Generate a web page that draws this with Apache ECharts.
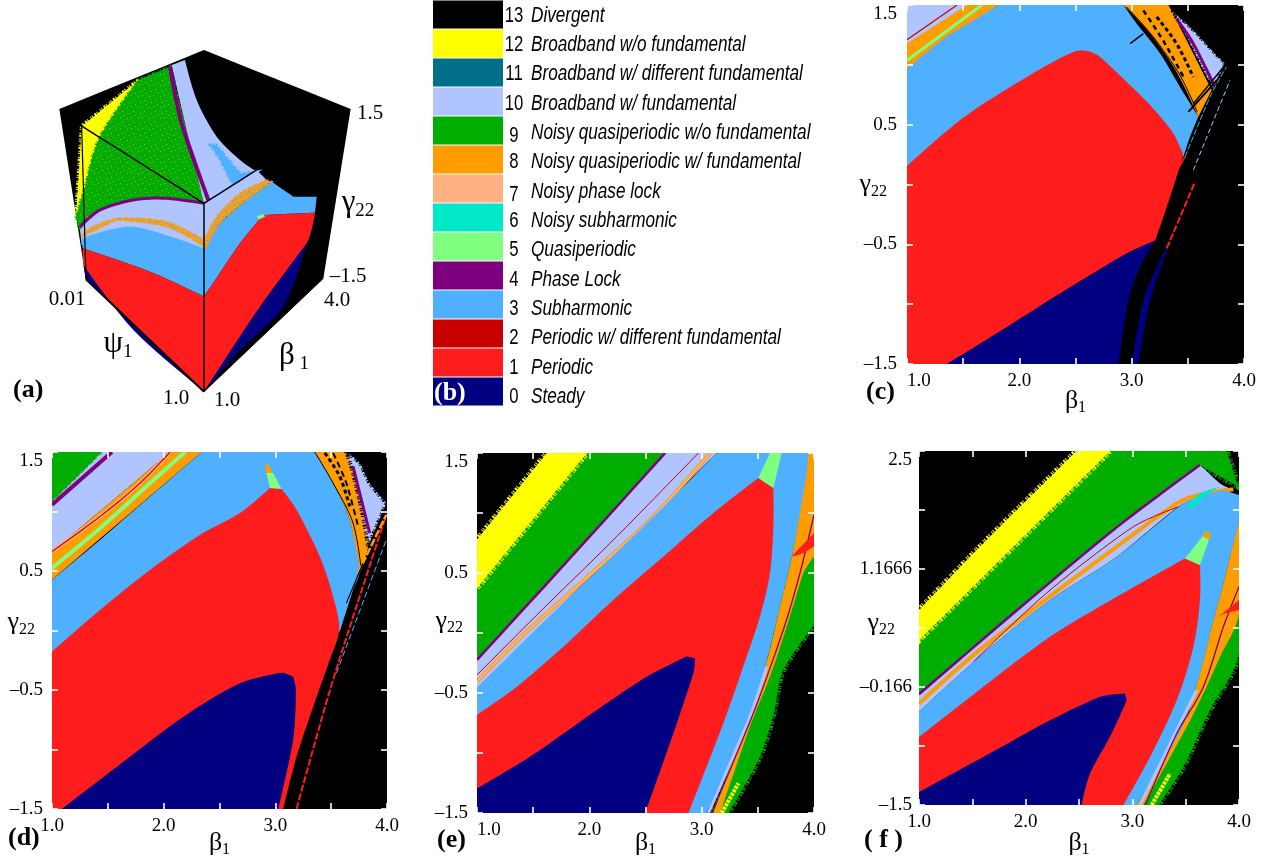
<!DOCTYPE html>
<html>
<head>
<meta charset="utf-8">
<style>html,body{margin:0;padding:0;background:#fff}#chart{width:1266px;height:862px}</style>
<script src="https://cdn.jsdelivr.net/npm/echarts@6/dist/echarts.min.js"></script>
</head>
<body>
<div id="chart"></div>
<script>
// ---------- legend ----------
const legendCodes = [13,12,11,10,9,8,7,6,5,4,3,2,1,0];
const legendNames = ['Divergent','Broadband w/o fundamental','Broadband w/ different fundamental','Broadband w/ fundamental','Noisy quasiperiodic w/o fundamental','Noisy quasiperiodic w/ fundamental','Noisy phase lock','Noisy subharmonic','Quasiperiodic','Phase Lock','Subharmonic','Periodic w/ different fundamental','Periodic','Steady'];
const stateColors = {0:'#000080',1:'#ff1c1c',2:'#c80000',3:'#4fb0ff',4:'#7f007f',5:'#80ff80',6:'#00e8c8',7:'#ffb080',8:'#ff9c00',9:'#00ae00',10:'#b0c4ff',11:'#006f87',12:'#ffff00',13:'#000000'};

// ---------- axes ----------
const betaTicks = [1,1.5,2,2.5,3,3.5,4];
const betaLabels = [1,2,3,4];
const gammaTicks = [-1.5,-1,-0.5,0,0.5,1,1.5];
const gammaLabels = [-1.5,-0.5,0.5,1.5];
const gammaTicksF = [-1.5,-0.8333,-0.1666,0.5,1.1666,1.8333,2.5];
const gammaLabelsF = [-1.5,-0.1666,1.1666,2.5];
const gammaTextF = {'-1.5':'–1.5','-0.1666':'–0.166','1.1666':'1.1666','2.5':'2.5'};

// ---------- panel (c) boundaries (beta1, gamma22) ----------
const cPlot = [[1,-1.5],[4,-1.5],[4,1.5],[1,1.5]];
const cCorner = [[1,.968],[1.815,1.5],[1,1.5]];
const cCornerLight = [[1,1.5],[1.534,1.5],[1,1.177]];
const cCornerMaroon = [[1,1.21],[1.445,1.5]];
const cCornerGreen = [[1,1.038],[1.667,1.5]];
const cSub = [[1,.968],[1.326,1.219],[1.593,1.372],[1.815,1.5],[2.927,1.5],[3.045,1.344],[3.253,1.094],[3.43,.815],[3.593,.565],[3.519,.398],[3.46,.231],[1,.147]];
const cPeriodic = [[1,.156],[1.326,.426],[1.593,.621],[1.919,.815],[2.245,.996],[2.482,1.108],[2.6,1.116],[2.719,1.066],[2.956,.857],[3.193,.634],[3.371,.426],[3.46,.245],[3.371,-.02],[3.282,-.27],[3.208,-.47],[2.956,-.576],[2.363,-.91],[1.919,-1.174],[1.356,-1.5],[1,-1.5]];
const cSteady = [[1.356,-1.5],[1.919,-1.174],[2.363,-.91],[2.956,-.576],[3.208,-.47],[3.075,-.687],[2.971,-.966],[2.882,-1.5]];
const cSteadyStrip = [[3,-1.5],[3.104,-.966],[3.282,-.576],[3.327,-.534],[3.164,-.966],[3.06,-1.5]];
const cOrange = [[2.927,1.5],[3.164,1.261],[3.4,.941],[3.593,.565],[3.712,.788],[3.549,1.094],[3.4,1.372],[3.327,1.5]];
const cLight = [[3.356,1.455],[3.549,1.288],[3.727,1.108],[3.831,1.01],[3.727,.801],[3.638,.955],[3.49,1.233]];
const cPurple = [[3.4,1.386],[3.549,1.177],[3.727,.843]];
const cEdge = [[2.956,1.483],[3.193,1.233],[3.43,.913],[3.584,.607]];
const cHash1 = [[3.223,1.4],[3.4,1.177],[3.549,.899]];
const cHash2 = [[3.104,1.455],[3.282,1.2],[3.46,.9]];
const cHash3 = [[3.505,.607],[3.786,.899]];
const cHash4 = [[3.549,.676],[3.831,.996]];
const cHash5 = [[2.986,1.177],[3.104,1.261]];
const cThin1 = [[3.475,.231],[3.697,.732],[3.845,.983]];
const cThin2 = [[3.549,.12],[3.875,.871]];
const cRed1 = [[3.312,-.534],[3.564,.022]];
const cRed2 = [[3.386,.092],[3.475,.231]];

// ---------- panel (d) ----------
const dPlot = cPlot.slice();
const dGreen = [[1,1.5],[1.447,1.5],[1,1.085]];
const dLight = [[1,1.5],[2.058,1.5],[1,.664]];
const dOrange = [[1,.664],[2.058,1.5],[2.34,1.5],[1,.426]];
const dPurple = [[1,1.057],[1.536,1.5]];
const dMaroon = [[1,.664],[1.432,.959],[1.789,1.239],[2.058,1.5]];
const dQuasiBand = [[1,.524],[1.432,.861],[1.879,1.239],[2.192,1.5]];
const dSub = [[1,.426],[1.432,.763],[1.879,1.127],[2.341,1.5],[3.353,1.5],[3.517,1.239],[3.666,.931],[3.756,.51],[3.696,.342],[3.577,-.009],[1,-.191]];
const dPeriodic = [[1,-.177],[1.432,.174],[1.879,.51],[2.326,.805],[2.683,.987],[2.951,1.197],[3.056,1.189],[3.19,1.015],[3.398,.622],[3.517,.286],[3.571,.005],[3.487,-.247],[3.339,-.64],[3.19,-1.06],[3.07,-1.5],[1,-1.5]];
const dSteady = [[1.089,-1.5],[1.581,-1.144],[2.177,-.724],[2.683,-.443],[3.07,-.353],[3.16,-.387],[3.184,-.499],[3.16,-.92],[3.026,-1.5]];
const dTip = [[2.951,1.197],[3.056,1.189],[2.981,1.323],[2.921,1.323]];
const dTipOrange = [[2.906,1.393],[2.942,1.393],[2.981,1.31],[2.921,1.31]];
const dOrangeR = [[3.353,1.5],[3.517,1.239],[3.666,.931],[3.756,.51],[3.83,.706],[3.785,.959],[3.696,1.323],[3.636,1.5]];
const dLightR = [[3.636,1.5],[3.696,1.323],[3.785,.959],[3.83,.706],[3.994,1.071],[3.845,1.239],[3.756,1.407]];
const dPurpleR = [[3.696,1.379],[3.785,1.043],[3.845,.819]];
const dEdge = [[3.353,1.5],[3.517,1.239],[3.696,.903],[3.77,.51]];
const dHash1 = [[3.443,1.492],[3.577,1.295],[3.666,1.043]];
const dHash2 = [[3.517,1.492],[3.636,1.239],[3.741,.875]];
const dRedBand = [[3.19,-1.5],[3.517,-.415],[3.994,.973]];
const dBlueBand = [[3.547,-.359],[3.994,.763]];
const dOrangeBand = [[3.74,.482],[3.994,.973]];
const dBlackLine = [[3.636,.23],[3.785,.566]];

// ---------- panel (e) ----------
const ePlot = cPlot.slice();
const eYellow = [[1,.777],[1.622,1.5],[1.978,1.5],[1,.374]];
const eGreen = [[1,.374],[1.978,1.5],[2.675,1.5],[1.83,.625],[1,-.224]];
const eLight = [[1,-.224],[1.83,.625],[2.675,1.5],[3.134,1.5],[1,-.46]];
const ePurple = [[1,-.224],[1.83,.625],[2.675,1.5]];
const eOrangeBand = [[1,-.404],[1.474,.04],[2.512,.916],[3.075,1.5]];
const eMaroon = [[1,-.349],[1.534,.152],[2.245,.805],[2.971,1.5]];
const eSub = [[1,-.46],[1.474,-.015],[2.512,.916],[3.134,1.5],[3.949,1.5],[3.934,1.333],[3.816,.694],[3.697,.221],[3.549,-.335],[3.371,-.807],[3.045,-1.5],[1,-1.5]];
const ePeriodic = [[1,-.682],[1.356,-.446],[1.771,-.112],[2.215,.277],[2.66,.638],[3.104,1],[3.505,1.292],[3.638,1.208],[3.638,.888],[3.608,.499],[3.519,.138],[3.401,-.196],[3.193,-.752],[2.882,-1.5],[1,-1.5]];
const eSteady = [[1,-1.294],[1.474,-1.03],[2.067,-.641],[2.512,-.363],[2.867,-.196],[2.941,-.21],[2.927,-.335],[2.749,-.835],[2.497,-1.5],[1,-1.5]];
const eTip = [[3.505,1.292],[3.638,1.208],[3.712,1.5],[3.608,1.5]];
const eGreenR = [[3.104,-1.5],[3.549,-.335],[3.816,.694],[3.949,1.5],[4,1.5],[4,.068],[3.727,-.307],[3.638,-.682],[3.505,-1.058],[3.238,-1.5]];
const eOrangeR = [[3.949,1.5],[4,1.5],[4,.638],[3.905,.499],[3.757,.054],[3.608,-.363],[3.43,-.78],[3.164,-1.5],[3.104,-1.5],[3.549,-.335],[3.697,.221],[3.816,.694]];
const eLightThin = [[3.06,-1.5],[3.43,-.696],[3.579,-.279]];
const ePurpleThin = [[3.09,-1.5],[3.46,-.668],[3.727,.027],[3.875,.499],[4,.986]];
const eYellowBottom = [[3.179,-1.5],[3.327,-1.252]];
const eRedX = [[3.801,.638],[4,.833],[4,.722],[3.905,.666]];

// ---------- panel (f) ----------
const fPlot = [[1,-1.5],[4,-1.5],[4,2.5],[1,2.5]];
const fYellow = [[1,.702],[1.603,1.456],[2.478,2.5],[2.791,2.5],[1,.362]];
const fGreen = [[1,.362],[2.791,2.5],[3.884,2.5],[3.994,2.097],[3.634,2.342],[2.853,1.637],[1.916,.698],[1,-.248]];
const fLight = [[1,-.248],[1.916,.698],[2.853,1.637],[3.634,2.342],[3.822,2.134],[3.947,2.059],[3.478,1.908],[2.853,1.305],[2.228,.815],[1.603,.212],[1,-.448]];
const fPurple = [[1,-.248],[1.916,.698],[2.853,1.637],[3.634,2.342]];
const fSub = [[1,-.448],[1.603,.212],[2.228,.815],[2.853,1.305],[3.478,1.908],[3.853,2.059],[4,2.002],[4,1.72],[3.916,1.305],[3.838,.928],[3.744,.513],[3.634,-.015],[3.478,-.58],[3.259,-1.07],[3.041,-1.5],[1,-1.5]];
const fPeriodic = [[1,-.731],[1.603,-.165],[2.228,.4],[2.853,.852],[3.494,1.286],[3.634,1.211],[3.634,.815],[3.572,.287],[3.416,-.316],[3.166,-.957],[2.916,-1.5],[1,-1.5]];
const fSteady = [[1,-1.353],[1.603,-.957],[2.228,-.542],[2.697,-.278],[2.931,-.241],[2.947,-.316],[2.806,-.693],[2.603,-1.146],[2.525,-1.5],[1,-1.5]];
const fTip = [[3.494,1.286],[3.634,1.211],[3.728,1.531],[3.681,1.569]];
const fTipOrange = [[3.681,1.6],[3.734,1.569],[3.722,1.493],[3.666,1.531]];
const fTeal = [[3.509,1.87],[3.634,2.021],[3.822,2.097],[3.697,2.002],[3.572,1.852]];
const fOrangeBand = [[1,-.354],[1.603,.287],[2.853,1.418],[3.478,1.946],[3.947,2.066]];
const fMaroon = [[1.509,.117],[2.228,.928],[3.009,1.644],[3.478,1.889]];
const fGreenR = [[3.103,-1.5],[3.478,-.618],[3.744,.513],[3.838,.928],[3.916,1.305],[4,1.72],[4,.212],[3.759,-.354],[3.666,-.58],[3.478,-1.07],[3.244,-1.5]];
const fOrangeR = [[3.916,1.305],[4,1.72],[4,.664],[3.822,.174],[3.666,-.241],[3.509,-.618],[3.166,-1.372],[3.103,-1.5],[3.041,-1.5],[3.478,-.58],[3.634,-.015],[3.744,.513],[3.838,.928]];
const fPurpleThin = [[3.119,-1.5],[3.416,-.693],[3.666,-.165],[3.853,.513],[4,.966]];
const fLightThin = [[3.072,-1.5],[3.4,-.693],[3.603,-.203]];
const fYellowBottom = [[3.181,-1.5],[3.353,-1.146]];
const fRedX = [[3.806,.626],[4,.815],[4,.702],[3.869,.664]];

// ---------- panel (a): cube faces read in projected picture units ----------
const aBox = [[178,237],[612,60],[1052,237],[970,745],[612,1085],[258,748]];
const aYellow = [[250,285],[415,150],[300,320],[255,470],[228,560],[245,295]];
const aGreen = [[415,150],[510,110],[560,300],[625,510],[612,520],[530,510],[400,510],[300,560],[240,600],[228,560],[255,470],[300,320]];
const aLightTop = [[515,105],[555,90],[590,210],[650,320],[720,390],[770,425],[612,520],[560,300]];
const aLightLow = [[240,600],[300,540],[400,510],[500,505],[612,520],[612,680],[500,650],[245,645]];
const aBlueWedge = [[630,345],[650,345],[720,430],[770,425],[700,470],[660,390]];
const aPurpleA = [[510,110],[545,280],[625,510]];
const aPurpleB = [[240,590],[300,540],[400,510],[500,505],[612,520]];
const aOrangeL = [[245,620],[350,570],[500,590],[612,650],[612,630],[500,575],[350,565],[260,600]];
const aBlueL = [[245,625],[400,590],[612,655],[612,800],[450,725],[248,655]];
const aRedL = [[248,655],[450,725],[612,800],[612,1085],[258,745],[250,700]];
const aNavyL = [[250,705],[258,750],[600,1075],[400,900]];
const aLightR = [[612,520],[770,420],[800,450],[700,520],[640,590],[612,640]];
const aOrangeR = [[612,630],[650,560],[720,490],[800,450],[815,455],[740,510],[660,580],[615,660]];
const aBlueR = [[612,650],[660,580],[740,510],[815,455],[880,500],[950,500],[945,548],[790,555],[720,640],[612,800]];
const aRedR = [[612,800],[720,640],[790,555],[945,548],[920,640],[780,830],[612,1085]];
const aNavyR = [[612,1085],[780,830],[920,640],[850,830],[720,960],[630,1065]];
const aSpot = [[770,560],[790,552],[795,560],[778,568]];
const aEdgeA = [[245,288],[612,520],[770,420]];
const aEdgeB = [[612,520],[612,1085]];
const aEdgeC = [[245,288],[258,748]];
const aEdgeD = [[258,748],[612,1085]];
const aEdgeE = [[612,1085],[970,745]];

// ---------- drawing ----------
function speckle(base, dot, list){
  const cv=document.createElement('canvas');cv.width=cv.height=11;
  const g=cv.getContext('2d');g.fillStyle=base;g.fillRect(0,0,11,11);g.fillStyle=dot;
  list.forEach(q=>g.fillRect(q[0],q[1],1,1));
  return {image:cv,repeat:'repeat'};
}
const NOISE=[1,2,2,1,1,3,1,1];
const R=(c,p,e)=>({c,p,e});
const L=(c,p,w,d)=>({c,p,w,d,line:1});
const noisy=(c,w)=>[stateColors[c],w];

const layersA=[
  R(13,aBox),R(12,aYellow,noisy(12,4)),R('speck',aGreen,noisy(9,3)),R(10,aLightTop),R(10,aLightLow),
  R(3,aBlueWedge,noisy(3,3)),L(4,aPurpleA,4),L(4,aPurpleB,3),R(3,aBlueL),R('olive',aOrangeL,noisy(8,2)),
  R(1,aRedL),R(0,aNavyL),R(10,aLightR),R(3,aBlueR),R('olive',aOrangeR,noisy(8,2)),R(1,aRedR),R(0,aNavyR),R(5,aSpot),
  L(13,aEdgeA,1.5),L(13,aEdgeB,1.5),L(13,aEdgeC,1.2),L(13,aEdgeD,2),L(13,aEdgeE,1)
];
const layersC=[
  R(13,cPlot),R(8,cCorner),R(10,cCornerLight),L(2,cCornerMaroon,1.2),L(5,cCornerGreen,3),
  R(3,cSub),R(8,cOrange),R(10,cLight,noisy(13,3)),R(1,cPeriodic),R(0,cSteady),R(0,cSteadyStrip),
  L(4,cPurple,3),L(13,cEdge,1),L(13,cHash1,3,[4,3]),L(13,cHash2,2.5,[5,4]),L(13,cHash3,2),L(13,cHash4,1.5),L(13,cHash5,1.5),
  L(3,cThin1,1,[6,2]),L(10,cThin2,1,[5,3]),L(1,cRed1,2,[7,2]),L(1,cRed2,1.5)
];
const layersD=[
  R(13,dPlot),R(10,dLight),R(9,dGreen,noisy(9,2)),L(4,dPurple,4),R(8,dOrange),L(7,dMaroon,4),L(2,dMaroon,1.2),L(5,dQuasiBand,4),
  R(3,dSub),R(8,dOrangeR),R(10,dLightR,noisy(13,4)),R(1,dPeriodic),R(0,dSteady),R(8,dTipOrange),R(5,dTip),
  L(4,dPurpleR,3),L(13,dEdge,1),L(13,dHash1,3,[4,3]),L(13,dHash2,2,[6,4]),
  L(1,dRedBand,2,[7,2]),L(3,dBlueBand,1,[6,3]),L(8,dOrangeBand,2.5,[8,2]),L(13,dBlackLine,1.2)
];
const layersE=[
  R(13,ePlot),R(9,eGreen,noisy(9,6)),R(12,eYellow,noisy(12,6)),R(10,eLight),L(4,ePurple,2.5),L(8,eOrangeBand,4),L(7,eOrangeBand,2),L(2,eMaroon,1),
  R(9,eGreenR,noisy(9,6)),R(8,eOrangeR),R(3,eSub),R(1,ePeriodic),R(0,eSteady),R(5,eTip),
  L(10,eLightThin,3),L(4,ePurpleThin,1.3),L(12,eYellowBottom,4,[3,1]),R(1,eRedX)
];
const layersF=[
  R(13,fPlot),R(9,fGreen,noisy(9,6)),R(12,fYellow,noisy(12,6)),R(10,fLight),L(4,fPurple,2.5),L(8,fOrangeBand,4),L(2,fMaroon,1),
  R(9,fGreenR,noisy(9,6)),R(8,fOrangeR),R(3,fSub),R(6,fTeal),R(1,fPeriodic),R(0,fSteady),R(5,fTip),R(8,fTipOrange),
  L(10,fLightThin,3),L(4,fPurpleThin,1.3),L(12,fYellowBottom,4,[3,1]),R(1,fRedX)
];

function spline(pts,closed){
  const n=pts.length, out=[];
  if(n<3) return pts;
  const at=i=>closed?pts[(i+n)%n]:pts[Math.max(0,Math.min(n-1,i))];
  const dir=[],lim=[];
  for(let i=0;i<n;i++){
    const p=at(i),a=at(i-1),b=at(i+1);
    const v1=[p[0]-a[0],p[1]-a[1]],v2=[b[0]-p[0],b[1]-p[1]];
    const l1=Math.hypot(v1[0],v1[1]),l2=Math.hypot(v2[0],v2[1]);
    let corner=false;
    if(l1>0&&l2>0){const cos=(v1[0]*v2[0]+v1[1]*v2[1])/(l1*l2);corner=Math.acos(Math.max(-1,Math.min(1,cos)))>0.55;}
    if(corner||l1+l2===0){dir.push([0,0]);lim.push(0);}
    else{const d=[b[0]-a[0],b[1]-a[1]],l=Math.hypot(d[0],d[1])||1;dir.push([d[0]/l,d[1]/l]);lim.push(Math.min(l1,l2));}
  }
  const segs=closed?n:n-1;
  for(let i=0;i<segs;i++){
    const j=(i+1)%n,p=pts[i],q=pts[j];
    const s=Math.hypot(q[0]-p[0],q[1]-p[1]);
    const mi=Math.min(s,lim[i]), mj=Math.min(s,lim[j]);
    for(let k=0;k<8;k++){
      const t=k/8,t2=t*t,t3=t2*t;
      const h1=2*t3-3*t2+1,h2=t3-2*t2+t,h3=-2*t3+3*t2,h4=t3-t2;
      out.push([h1*p[0]+h2*mi*dir[i][0]+h3*q[0]+h4*mj*dir[j][0],h1*p[1]+h2*mi*dir[i][1]+h3*q[1]+h4*mj*dir[j][1]]);
    }
  }
  if(!closed) out.push(pts[n-1]);
  return out;
}
const fills={speck:speckle('#00ae00','#b9a32c',[[1,1],[8,3],[3,5],[6,8],[10,7]]),
             olive:speckle('#e6a23a','#7f9f50',[[1,2],[5,1],[8,5],[3,7],[9,9],[6,4]])};
function series(layers,xi,yi,z){
  return {type:'custom',coordinateSystem:'cartesian2d',xAxisIndex:xi,yAxisIndex:yi,clip:true,silent:true,z:z||2,animation:false,
    data:layers.map((_,i)=>[i]),
    encode:{x:-1,y:-1},
    renderItem:(params,api)=>{
      const l=layers[params.dataIndex], pts=l.p.map(q=>api.coord(q));
      if(l.line) return {type:'polyline',shape:{points:spline(pts,false)},style:{fill:null,stroke:stateColors[l.c],lineWidth:l.w,lineDash:l.d||null}};
      const fill=fills[l.c]||stateColors[l.c];
      const style={fill};
      if(l.e){style.stroke=l.e[0];style.lineWidth=l.e[1];style.lineDash=NOISE;}
      return {type:'polygon',shape:{points:spline(pts,true)},style};
    }};
}

const serif='"Liberation Serif","Times New Roman",serif';
const fmtGamma=v=>{const t=gammaTextF[String(v)];if(t)return t;return (v<0?'–':'')+Math.abs(v).toFixed(1);};
const richName={a:{fontFamily:serif,fontSize:26,color:'#000'},b:{fontFamily:serif,fontSize:16,color:'#000',padding:[14,0,0,0]}};

const panels=[
 {layers:layersC,rect:[907,5,337,359],ymin:-1.5,ymax:1.5,yt:gammaTicks,yl:gammaLabels,minAlign:'left',gap:22,yGap:20,yPad:0,ym:10},
 {layers:layersD,rect:[52,452,335,357],ymin:-1.5,ymax:1.5,yt:gammaTicks,yl:gammaLabels,minAlign:'center',gap:19,yGap:17,yPad:16,ym:9},
 {layers:layersE,rect:[477,453,337,360],ymin:-1.5,ymax:1.5,yt:gammaTicks,yl:gammaLabels,minAlign:'left',gap:15,yGap:14,yPad:24,ym:9},
 {layers:layersF,rect:[919,451,320,354],ymin:-1.5,ymax:2.5,yt:gammaTicksF,yl:gammaLabelsF,minAlign:'center',gap:23,yGap:24,yPad:10,ym:7}
];

const grid=[],xAxis=[],yAxis=[],seriesList=[];
const noBounds={outerBoundsMode:'none'};
// cube
grid.push(Object.assign({left:0,top:30,width:420,height:400},noBounds));
xAxis.push({type:'value',gridIndex:0,min:0,max:1260,show:false,axisLine:{onZero:false}});
yAxis.push({type:'value',gridIndex:0,min:0,max:1200,inverse:true,show:false,axisLine:{onZero:false}});
seriesList.push(series(layersA,0,0));
// legend
grid.push(Object.assign({left:433,top:0,width:70,height:406},noBounds));
xAxis.push({type:'value',gridIndex:1,min:0,max:1,show:false,axisLine:{onZero:false}});
yAxis.push({type:'category',gridIndex:1,inverse:true,data:legendNames,show:false,axisLine:{onZero:false}});
seriesList.push({type:'bar',xAxisIndex:1,yAxisIndex:1,barWidth:'97%',silent:true,animation:false,
  data:legendCodes.map((c,i)=>({value:1,name:legendNames[i],itemStyle:{color:stateColors[c]}}))});
const legendFont='"Liberation Sans",Arial,sans-serif';
seriesList.push({type:'custom',coordinateSystem:'cartesian2d',xAxisIndex:1,yAxisIndex:1,clip:false,silent:true,z:5,animation:false,
  data:legendCodes.map((c,i)=>[1,i]),
  renderItem:(params,api)=>{
    const i=params.dataIndex, pos=api.coord([1,i]);
    const drift=1+i*0.35, nudge=(legendCodes[i]===9||legendCodes[i]===7)?3:0;
    return {type:'group',children:[
      {type:'text',x:pos[0]+11,y:pos[1]+drift+nudge,scaleX:0.76,style:{text:String(legendCodes[i]),fill:'#000',font:'22px '+legendFont,textAlign:'center',textVerticalAlign:'middle'}},
      {type:'text',x:pos[0]+28,y:pos[1]+drift,scaleX:0.78,style:{text:legendNames[i],fill:'#000',font:'italic 22px '+legendFont,textAlign:'left',textVerticalAlign:'middle'}}
    ]};
  }});

panels.forEach((p,i)=>{
  const g=grid.length;
  grid.push(Object.assign({left:p.rect[0],top:p.rect[1],width:p.rect[2],height:p.rect[3]},noBounds));
  const tick={show:true,inside:true,length:6,lineStyle:{color:'#fff',width:1.6}};
  const xi=xAxis.length, yi=yAxis.length;
  xAxis.push({type:'value',gridIndex:g,position:'bottom',min:1,max:4,z:10,
    axisLine:{show:false,onZero:false},splitLine:{show:false},
    axisTick:Object.assign({customValues:betaTicks},tick),
    axisLabel:{customValues:betaLabels,margin:8,fontFamily:serif,fontSize:19,color:'#000',formatter:v=>v.toFixed(1),alignMinLabel:p.minAlign,alignMaxLabel:'center'},
    name:'{a|β}{b|1}',nameLocation:'middle',nameGap:p.gap,nameMoveOverlap:false,nameTextStyle:{rich:richName}});
  xAxis.push({type:'value',gridIndex:g,position:'top',min:1,max:4,z:10,
    axisLine:{show:false,onZero:false},splitLine:{show:false},axisLabel:{show:false},
    axisTick:Object.assign({customValues:betaTicks},tick)});
  yAxis.push({type:'value',gridIndex:g,position:'left',min:p.ymin,max:p.ymax,z:10,
    axisLine:{show:false,onZero:false},splitLine:{show:false},
    axisTick:Object.assign({customValues:p.yt},tick),
    axisLabel:{customValues:p.yl,margin:p.ym,fontFamily:serif,fontSize:19,color:'#000',formatter:fmtGamma,verticalAlignMaxLabel:'top'},
    name:'{a|γ}{b|22}',nameLocation:'middle',nameGap:p.yGap,nameRotate:0,nameMoveOverlap:false,nameTextStyle:{rich:richName,padding:[0,0,p.yPad,0]}});
  yAxis.push({type:'value',gridIndex:g,position:'right',min:p.ymin,max:p.ymax,z:10,
    axisLine:{show:false,onZero:false},splitLine:{show:false},axisLabel:{show:false},
    axisTick:Object.assign({customValues:p.yt},tick)});
  seriesList.push(series(p.layers,xi,yi));
});

const tag=(text,x,y,color)=>({type:'text',x,y,z:20,silent:true,style:{text,fill:color||'#000',font:'bold 26px '+serif,textAlign:'left',textVerticalAlign:'middle'}});
const cubeText=(text,x,y)=>({type:'text',x,y,z:20,silent:true,style:{text,fill:'#000',font:'21px '+serif,textAlign:'center',textVerticalAlign:'middle'}});
const cubeName=(a,b,x,y)=>({type:'text',x,y,z:20,silent:true,style:{text:'{a|'+a+'}{b|'+b+'}',textAlign:'center',textVerticalAlign:'middle',rich:{a:{fontFamily:serif,fontSize:31,fill:'#000',color:'#000'},b:{fontFamily:serif,fontSize:19,fill:'#000',color:'#000',padding:[16,0,0,0]}}}});

const chart=echarts.init(document.getElementById('chart'),null,{renderer:'canvas'});
chart.setOption({
  animation:false,backgroundColor:'#fff',grid,xAxis,yAxis,series:seriesList,tooltip:{show:false},
  graphic:[
    tag('(a)',13,390),tag('(c)',866,392),tag('(d)',8,838),tag('(e)',437,840),tag('( f )',864,840),
    tag('(b)',434,393,'#fff'),
    cubeText('1.5',370,113),cubeText('–1.5',348,276),cubeText('4.0',337,300),cubeText('0.01',67,299),cubeText('1.0',176,398),cubeText('1.0',227,400),
    cubeName('ψ','1',118,344),cubeName('β',' 1',294,356),cubeName('γ','22',358,203)
  ]
});
</script>
</body>
</html>
